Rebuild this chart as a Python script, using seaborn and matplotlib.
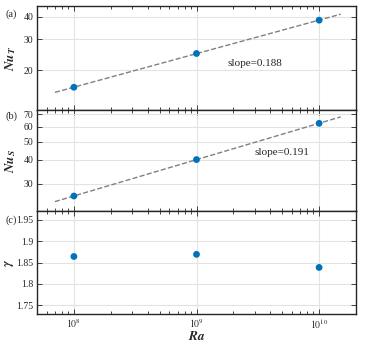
import numpy as np
import pandas as pd
import matplotlib
matplotlib.use("Agg")
import matplotlib.pyplot as plt
import seaborn as sns

# data
ra = [1e8, 1e9, 1e10]
nu_t = [16.1, 24.9, 38.3]
nu_s = [25.8, 40.2, 62.5]
gamma = [1.864, 1.869, 1.8385]
slopes = ["0.188", "0.191"]

sns.set_style("ticks")
plt.rcParams['font.family'] = ['Liberation Serif', 'DejaVu Serif']
plt.rcParams['mathtext.fontset'] = 'stix'
plt.rcParams['xtick.direction'] = 'in'
plt.rcParams['ytick.direction'] = 'in'

blue = '#0072BD'
fig = plt.figure(figsize=(3.74, 3.42), dpi=100)
L, W = 37 / 374, (356 - 37) / 374
tops = [6, 110, 211, 314]
axes = []
for i in range(3):
    y0 = 1 - tops[i + 1] / 342
    h = (tops[i + 1] - tops[i]) / 342
    axes.append(fig.add_axes([L, y0, W, h]))

df = pd.DataFrame({'Ra': ra, 'NuT': nu_t, 'NuS': nu_s, 'gamma': gamma})
xfit = np.array([7e7, 1.5e10])

for ax, col, ylim, lab, tx, ty, sl in [
        (axes[0], 'NuT', (12, 46), r'$\mathbfit{Nu_T}$', 1.78e9, 21.8, slopes[0]),
        (axes[1], 'NuS', (21.5, 73.5), r'$\mathbfit{Nu_S}$', 2.95e9, 43.9, slopes[1])]:
    p = np.polyfit(np.log10(df['Ra']), np.log10(df[col]), 1)
    fit = pd.DataFrame({'x': xfit, 'y': 10 ** np.polyval(p, np.log10(xfit))})
    sns.lineplot(data=fit, x='x', y='y', ax=ax, color='#808080', lw=1,
                 dashes=(6, 3.5), linestyle='--')
    sns.scatterplot(data=df, x='Ra', y=col, ax=ax, color=blue, s=24,
                    edgecolor='none', zorder=3)
    ax.set_yscale('log')
    ax.set_ylim(*ylim)
    ax.text(tx, ty, 'slope=' + sl, fontsize=8, va='center', ha='left')
    ax.set_ylabel(lab, fontsize=9.5)

axes[0].set_yticks([20, 30, 40])
axes[0].set_yticklabels(['20', '30', '40'])
axes[1].set_yticks([30, 40, 50, 60, 70])
axes[1].set_yticklabels(['30', '40', '50', '60', '70'])

sns.scatterplot(data=df, x='Ra', y='gamma', ax=axes[2], color=blue, s=24,
                edgecolor='none', zorder=3)
axes[2].set_ylim(1.73, 1.97)
axes[2].set_yticks([1.75, 1.8, 1.85, 1.9, 1.95])
axes[2].set_yticklabels(['1.75', '1.8', '1.85', '1.9', '1.95'])
axes[2].set_ylabel(r'$\mathbfit{\gamma}$', fontsize=9.5)

for i, ax in enumerate(axes):
    ax.set_xscale('log')
    ax.set_xlim(5e7, 2e10)
    ax.set_xticks(ra)
    ax.grid(True, which='major', color='#e3e3e3', lw=0.8)
    ax.tick_params(which='both', top=True, right=True, labelsize=7,
                   colors='#262626', width=0.6, pad=2.5)
    ax.tick_params(which='major', length=3.5)
    ax.tick_params(which='minor', length=2)
    for s in ax.spines.values():
        s.set_linewidth(1.0)
        s.set_color('#262626')
    if i < 2:
        ax.set_xticklabels([])
        ax.set_xlabel('')
    ax.yaxis.set_minor_formatter(matplotlib.ticker.NullFormatter())
    ax.yaxis.set_label_coords((18 - 37) / 319, 0.5)
axes[2].yaxis.set_label_coords((16 - 37) / 319, 0.5)

axes[2].set_xticklabels([r'$10^{8}$', r'$10^{9}$', r'$10^{10}$'])
axes[2].set_xlabel(r'$\mathbfit{Ra}$', fontsize=9.5)
axes[2].xaxis.set_label_coords(0.5, -(330 - 314) / 103)

for lab, y in [('(a)', 14), ('(b)', 116), ('(c)', 220)]:
    fig.text(5 / 374, 1 - y / 342, lab, fontsize=7.5, va='center', ha='left')

fig.savefig('out.png', dpi=100)
